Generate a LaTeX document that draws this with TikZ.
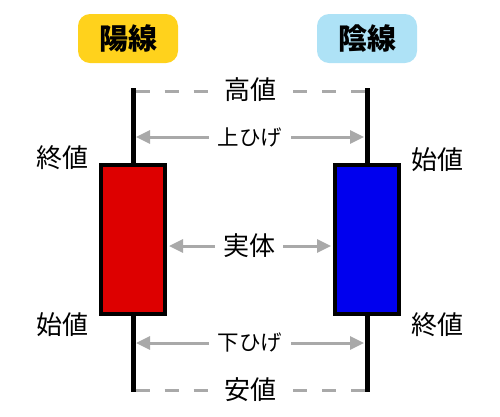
\documentclass[tikz,border=0pt]{standalone}
\usepackage{fontspec}
\setmainfont{Noto Sans CJK JP}
\usepackage{xcolor}
\usepackage{tikz}
\usetikzlibrary{arrows.meta,positioning,calc}
\definecolor{bullred}{HTML}{DD0000}
\definecolor{bearblue}{HTML}{0000EE}
\definecolor{tagyellow}{HTML}{FFD21C}
\definecolor{tagblue}{HTML}{AEE2F6}
\definecolor{guidegray}{HTML}{A9A9A9}
\tikzset{
 cdl wick/.style={line width=5pt,draw=black},
 cdl body/.style={draw=black,line width=4pt,minimum width=64pt,minimum height=149pt,inner sep=0pt},
 cdl tag/.style={rounded corners=12pt,minimum width=100pt,minimum height=49pt,
   font=\fontsize{29}{31}\selectfont\bfseries,inner sep=0pt},
 cdl price/.style={font=\fontsize{26}{28}\selectfont,inner sep=0pt},
 cdl part/.style={font=\fontsize{21.5}{23}\selectfont,inner ysep=0pt,inner xsep=9pt},
 cdl guide/.style={draw=guidegray,line width=3pt,dash pattern=on 14pt off 15pt},
 cdl arrow/.style={-{Triangle[length=14pt,width=13pt]},draw=guidegray,line width=3pt}
}

\begin{document}
\begin{tikzpicture}[x=1pt,y=-1pt]
\useasboundingbox (0,0) rectangle (500,416);
% titles
\node[cdl tag,fill=tagyellow] (bull tag) at (128,38.5) {陽線};
\node[cdl tag,fill=tagblue] (bear tag) at (367,38.5) {陰線};
% wicks and bodies
\coordinate (bull high) at (133,88);
\coordinate (bull low) at (133,392);
\coordinate (bear high) at (367,88);
\coordinate (bear low) at (367,392);
\draw[cdl wick] (bull high) -- (bull low);
\draw[cdl wick] (bear high) -- (bear low);
\node[cdl body,fill=bullred] (bull) at (133,239.5) {};
\node[cdl body,fill=bearblue] (bear) at (367,239.5) {};
% high and low
\node[cdl price,inner xsep=13pt] (high) at (250,90) {高値};
\node[cdl price,inner xsep=13pt] (low) at (250,390) {安値};
\draw[cdl guide] ($(bull high)+(2.5,3)$) -- (high.west |- 0,91);
\draw[cdl guide] ($(bear high)+(-2.5,3)$) -- (high.east |- 0,91);
\draw[cdl guide] ($(bull low)+(2.5,-2)$) -- (low.west |- 0,390);
\draw[cdl guide] ($(bear low)+(-2.5,-2)$) -- (low.east |- 0,390);
% parts
\node[cdl part] (upper) at (250,137) {上ひげ};
\node[cdl part] (lower) at (250,343) {下ひげ};
\node[cdl price,inner xsep=8pt] (real) at (249,246) {実体};
\draw[cdl arrow,shorten >=3pt] (upper.west) -- (upper.west -| bull high);
\draw[cdl arrow,shorten >=3pt] (upper.east) -- (upper.east -| bear high);
\draw[cdl arrow,shorten >=3pt] (lower.west) -- (lower.west -| bull low);
\draw[cdl arrow,shorten >=3pt] (lower.east) -- (lower.east -| bear low);
\draw[cdl arrow,shorten >=2pt] (real.west) -- (real.west -| bull.east);
\draw[cdl arrow,shorten >=2pt] (real.east) -- (real.east -| bear.west);
% open and close
\node[cdl price] (bull close) at (62,158) {終値};
\node[cdl price] (bull open) at (62,325) {始値};
\node[cdl price] (bear open) at (437,160) {始値};
\node[cdl price] (bear close) at (437,325) {終値};
\end{tikzpicture}
\end{document}
